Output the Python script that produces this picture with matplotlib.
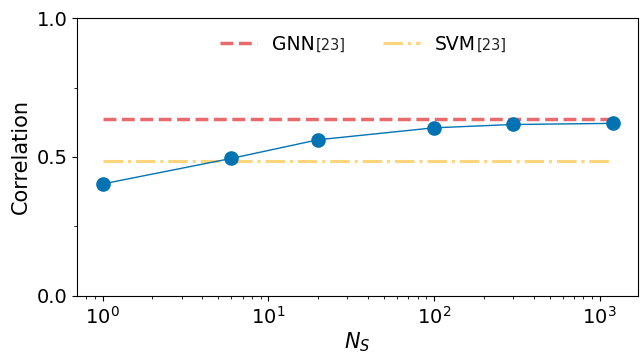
import matplotlib.pyplot as plt

n_s = [1, 6, 20, 100, 300, 1200]
correlation = [0.403, 0.495, 0.562, 0.605, 0.617, 0.621]
gnn_ref = 0.637
svm_ref = 0.486
ref_tag = '[23]'

fig = plt.figure(figsize=(6.42, 3.54), dpi=100)
ax = fig.add_axes([0.12, 0.164, 0.874, 0.785])

ax.plot([n_s[0], n_s[-1]], [gnn_ref, gnn_ref], ls='--', lw=2.5,
        color='#e96a6c', label='GNN')
ax.plot([n_s[0], n_s[-1]], [svm_ref, svm_ref], ls='-.', lw=2.2,
        color='#fcd57c', label='SVM')
ax.plot(n_s, correlation, '-o', color='#0173b2', lw=1.0, markersize=9.5)

ax.set_xscale('log')
ax.set_ylim(0, 1)
ax.set_yticks([0, 0.5, 1.0])
ax.set_yticks([0.25, 0.75], minor=True)
ax.tick_params(labelsize=14)
ax.set_xlabel('$N_S$', fontsize=15, labelpad=2)
ax.set_ylabel('Correlation', fontsize=15)

leg = ax.legend(loc='upper left', ncol=2, frameon=False, fontsize=13.5,
                columnspacing=3.6, handletextpad=0.8,
                bbox_to_anchor=(0.2246, 1.0))

# small reference tag right after each legend label
fig.canvas.draw()
for txt in leg.get_texts():
    bb = txt.get_window_extent()
    fig.text(bb.x1 + 0.5, bb.y0 + 1, ref_tag, transform=None,
             ha='left', va='bottom', fontsize=10.5, color='#222222')

fig.savefig('out.png')
